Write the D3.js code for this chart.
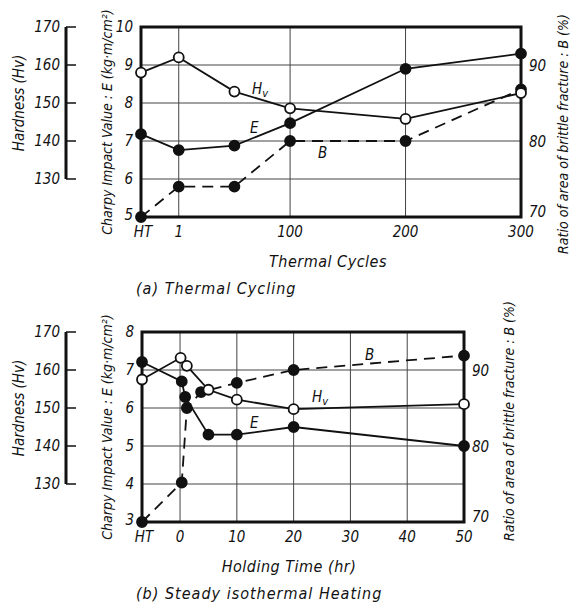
<!DOCTYPE html>
<html><head><meta charset="utf-8">
<script src="https://cdn.jsdelivr.net/npm/d3@7"></script>
<style>
body{margin:0;background:#fff;}
text{font-family:"DejaVu Sans Condensed","DejaVu Sans",sans-serif;font-style:italic;fill:#111;}
.num{font-family:"Liberation Sans Narrow","DejaVu Sans Condensed",sans-serif;font-style:italic;font-size:15px;}
</style></head>
<body>
<script>
// ---- data: (a) thermal cycling ----
const cyclesA = ["HT", 1, 10, 100, 200, 300];
const hvA = [158, 162, 153, 148.6, 145.8, 152.6];
const eA  = [7.18, 6.76, 6.88, 7.47, 8.9, 9.3];
const bA  = [70, 74, 74, 80, 80, 86.8];
const xTicksA = ["HT", 1, 100, 200, 300];

// ---- data: (b) steady isothermal heating ----
const timeE_B  = ["HT", 0.3, 0.9, 5, 10, 20, 50];
const eB       = [7.21, 6.7, 6.29, 5.3, 5.3, 5.5, 5.0];
const timeHv_B = ["HT", 0.1, 1.2, 5, 10, 20, 50];
const hvB      = [157.5, 163.2, 161.1, 154.8, 152.2, 149.7, 151];
const timeB_B  = ["HT", 0.3, 1.2, 3.7, 10, 20, 50];
const bB       = [70, 75.2, 85, 87.1, 88.3, 90, 91.9];
const xTicksB  = ["HT", 0, 10, 20, 30, 40, 50];

const hvTicks = [130, 140, 150, 160, 170];
const bTicks = [70, 80, 90];

const W = 578, H = 611;
const svg = d3.select("body").append("svg").attr("width", W).attr("height", H);
svg.append("rect").attr("width", W).attr("height", H).attr("fill", "#fff");

function panel(o) {
  const g = svg.append("g");
  const yE = d3.scaleLinear().domain(o.eDomain).range([o.bottom, o.top]);
  const yHv = d3.scaleLinear().domain([130, 170]).range([yE(o.eDomain[0] + 1), yE(o.eDomain[1])]);
  const yB = d3.scaleLinear().domain([70, 90]).range([yE(o.eDomain[0]), yE(o.eDomain[0] + 4)]);
  const xs = o.xScale;
  const X = v => xs(v);

  // gridlines
  const eGrid = d3.range(o.eDomain[0] + 1, o.eDomain[1]);
  g.selectAll(".hg").data(eGrid).enter().append("line")
    .attr("x1", o.left).attr("x2", o.right).attr("y1", d => yE(d)).attr("y2", d => yE(d))
    .attr("stroke", "#444").attr("stroke-width", 1);
  g.selectAll(".vg").data(o.vGrid).enter().append("line")
    .attr("x1", d => X(d)).attr("x2", d => X(d)).attr("y1", o.top).attr("y2", o.bottom)
    .attr("stroke", "#444").attr("stroke-width", 1);

  // frame
  g.append("rect").attr("x", o.left).attr("y", o.top)
    .attr("width", o.right - o.left).attr("height", o.bottom - o.top)
    .attr("fill", "none").attr("stroke", "#111").attr("stroke-width", 3);

  // left E axis labels
  const eTicks = d3.range(o.eDomain[0], o.eDomain[1] + 1);
  g.selectAll(".el").data(eTicks).enter().append("text").attr("class", "num")
    .attr("x", o.left - 8).attr("y", d => yE(d) + (d === o.eDomain[0] ? 3 : 5)).attr("text-anchor", "end").text(d => d);

  // right B axis labels
  g.selectAll(".bl").data(bTicks).enter().append("text").attr("class", "num")
    .attr("x", o.right + 8).attr("y", d => yB(d) + (d === 70 ? 0 : 6)).text(d => d);

  // x tick labels
  g.selectAll(".xl").data(o.xTicks).enter().append("text").attr("class", "num")
    .attr("x", d => X(d) + (d === "HT" ? 2 : 0)).attr("y", o.bottom + 20).attr("text-anchor", "middle").text(d => d);

  // hardness axis
  const hx = 66;
  g.append("line").attr("x1", hx).attr("x2", hx).attr("y1", yHv(170)).attr("y2", yHv(130))
    .attr("stroke", "#111").attr("stroke-width", 3);
  g.selectAll(".ht").data(hvTicks).enter().append("line")
    .attr("x1", hx).attr("x2", hx + 10).attr("y1", d => yHv(d)).attr("y2", d => yHv(d))
    .attr("stroke", "#111").attr("stroke-width", 1.5);
  g.selectAll(".hl").data(hvTicks).enter().append("text").attr("class", "num")
    .attr("x", hx - 6).attr("y", d => yHv(d) + 5).attr("text-anchor", "end").text(d => d);

  // titles
  g.append("text").attr("transform", `translate(24,${(yHv(170) + yHv(130)) / 2}) rotate(-90)`)
    .attr("text-anchor", "middle").attr("font-size", 15).text("Hardness  (Hv)");
  g.append("text").attr("transform", `translate(112,${o.eTitleY}) rotate(-90)`)
    .attr("text-anchor", "middle").attr("font-size", 14).text("Charpy Impact Value : E (kg·m/cm²)");
  g.append("text").attr("transform", `translate(${o.bTitleX},${o.bTitleY}) rotate(-90)`)
    .attr("text-anchor", "middle").attr("font-size", 14).text(o.bTitle);
  g.append("text").attr("x", o.xTitleX).attr("y", o.bottom + 50).attr("text-anchor", "middle")
    .attr("font-size", 16).attr("letter-spacing", 0.5).text(o.xTitle);
  g.append("text").attr("x", 136).attr("y", o.bottom + 77)
    .attr("font-size", 16).attr("letter-spacing", 1).text(o.caption);

  // series
  const line = (xsArr, ys, yScale) => d3.line()(xsArr.map((v, i) => [X(v), yScale(ys[i])]));
  g.append("path").attr("d", line(o.bX, o.bY, yB)).attr("fill", "none").attr("stroke", "#111")
    .attr("stroke-width", 1.8).attr("stroke-dasharray", "11,7");
  g.append("path").attr("d", line(o.eX, o.eY, yE)).attr("fill", "none").attr("stroke", "#111").attr("stroke-width", 1.8);
  g.append("path").attr("d", line(o.hvX, o.hvY, yHv)).attr("fill", "none").attr("stroke", "#111").attr("stroke-width", 1.8);

  const dots = (xsArr, ys, yScale, filled) => g.append("g").selectAll("circle")
    .data(xsArr.map((v, i) => [X(v), yScale(ys[i])])).enter().append("circle")
    .attr("cx", d => d[0]).attr("cy", d => d[1]).attr("r", 5)
    .attr("fill", filled ? "#111" : "#fff").attr("stroke", "#111").attr("stroke-width", 1.8);
  dots(o.bX, o.bY, yB, true);
  dots(o.eX, o.eY, yE, true);
  dots(o.hvX, o.hvY, yHv, false);

  // series labels
  const hv = g.append("text").attr("x", o.hvLab[0]).attr("y", o.hvLab[1]).attr("font-size", 15).attr("font-family", "DejaVu Sans");
  hv.append("tspan").text("H");
  hv.append("tspan").attr("font-size", 11).attr("dy", 3).text("v");
  g.append("text").attr("x", o.eLab[0]).attr("y", o.eLab[1]).attr("font-size", 15).attr("font-family", "DejaVu Sans").text("E");
  g.append("text").attr("x", o.bLab[0]).attr("y", o.bLab[1]).attr("font-size", 15).attr("font-family", "DejaVu Sans").text("B");
}

// (a) x scale: log between 1 and 100 cycles, linear beyond 100; HT at left edge
const leftA = 141, rightA = 521;
const uA = v => v === "HT" ? -0.678 : (v <= 100 ? Math.log10(v) : 2 + (v - 100) / 100 * 2.074);
const linA = d3.scaleLinear().domain([uA("HT"), uA(300)]).range([leftA, rightA]);
const xA = v => linA(uA(v));

panel({
  left: leftA, right: rightA, top: 27, bottom: 217, eDomain: [5, 10],
  xScale: xA, vGrid: [1, 100, 200], xTicks: xTicksA,
  eX: cyclesA, eY: eA, hvX: cyclesA, hvY: hvA, bX: cyclesA, bY: bA,
  eTitleY: 122, bTitleX: 568, bTitleY: 134, bTitle: "Ratio of area of brittle fracture : B (%)",
  xTitle: "Thermal Cycles", xTitleX: 328, caption: "(a)  Thermal Cycling",
  hvLab: [252, 94], eLab: [250, 133], bLab: [318, 158]
});

// (b) x scale: linear hours, HT placed to the left of 0
const leftB = 142, rightB = 464;
const linB = d3.scaleLinear().domain([-6.7, 50]).range([leftB, rightB]);
const xB = v => linB(v === "HT" ? -6.7 : v);

panel({
  left: leftB, right: rightB, top: 332, bottom: 522, eDomain: [3, 8],
  xScale: xB, vGrid: [0, 10, 20, 30, 40], xTicks: xTicksB,
  eX: timeE_B, eY: eB, hvX: timeHv_B, hvY: hvB, bX: timeB_B, bY: bB,
  eTitleY: 427, bTitleX: 514, bTitleY: 421, bTitle: "Ratio of area of brittle fracture : B (%)",
  xTitle: "Holding Time (hr)", xTitleX: 289, caption: "(b)  Steady isothermal Heating",
  hvLab: [312, 402], eLab: [250, 428], bLab: [365, 360]
});
</script>
</body></html>
